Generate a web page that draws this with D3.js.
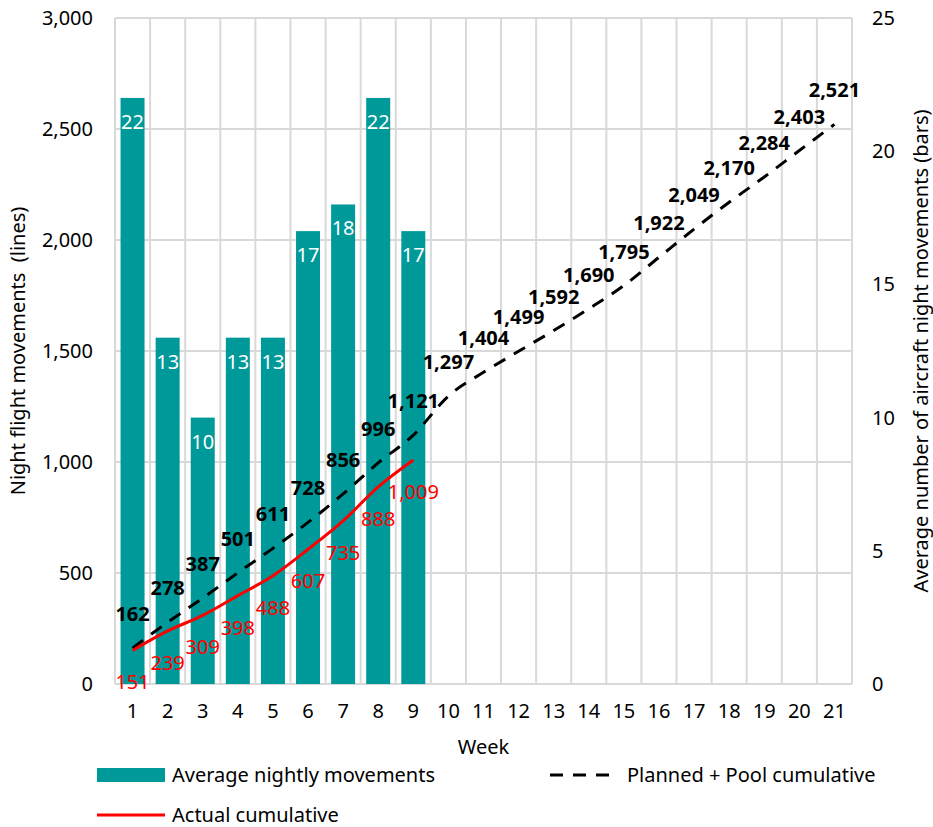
<!DOCTYPE html>
<html>
<head>
<meta charset="utf-8">
<script src="https://cdn.jsdelivr.net/npm/d3@7"></script>
<style>
  body { margin: 0; background: #fff; }
  text { font-family: "Noto Sans", sans-serif; }
</style>
</head>
<body>
<svg id="chart" width="933" height="827"></svg>
<script>
// Data
const weeks = d3.range(1, 22).map(String)
const avgNightly = [22, 13, 10, 13, 13, 17, 18, 22, 17]
const plannedCumulative = [162, 278, 387, 501, 611, 728, 856, 996, 1121, 1297, 1404, 1499, 1592, 1690, 1795, 1922, 2049, 2170, 2284, 2403, 2521]
const actualCumulative = [151, 239, 309, 398, 488, 607, 735, 888, 1009]
const leftTicks = [0, 500, 1000, 1500, 2000, 2500, 3000]
const rightTicks = [0, 5, 10, 15, 20, 25]

const teal = '#009999'
const grid = '#d9d9d9'
const fmt = d3.format(',')

const margin = {top: 18, right: 81, bottom: 143, left: 115}
const width = 933 - margin.left - margin.right
const height = 827 - margin.top - margin.bottom

const svg = d3.select('#chart')
const g = svg.append('g')
    .attr('transform', 'translate(' + margin.left + ',' + margin.top + ')')

const x = d3.scaleBand()
    .domain(weeks)
    .range([0, width])

const yLeft = d3.scaleLinear().domain([0, 3000]).range([height, 0])
const yRight = d3.scaleLinear().domain([0, 25]).range([height, 0])

const fs = 20 //font size for everything

//Horizontal gridlines
g.selectAll('.hgrid')
    .data(leftTicks)
    .enter()
    .append('line')
    .attr('x1', 0)
    .attr('x2', width)
    .attr('y1', d => yLeft(d))
    .attr('y2', d => yLeft(d))
    .attr('stroke', grid)
    .attr('stroke-width', 2)

//Vertical gridlines at band edges
g.selectAll('.vgrid')
    .data(d3.range(0, weeks.length + 1))
    .enter()
    .append('line')
    .attr('x1', i => i * x.step())
    .attr('x2', i => i * x.step())
    .attr('y1', 0)
    .attr('y2', height)
    .attr('stroke', grid)
    .attr('stroke-width', 2)

//Bars
const barW = 24
g.selectAll('.bar')
    .data(avgNightly)
    .enter()
    .append('rect')
    .attr('class', 'bar')
    .attr('x', (d, i) => x(weeks[i]) + x.bandwidth() / 2 - barW / 2)
    .attr('y', d => yRight(d))
    .attr('width', barW)
    .attr('height', d => height - yRight(d))
    .attr('fill', teal)

g.selectAll('.barlabel')
    .data(avgNightly)
    .enter()
    .append('text')
    .attr('x', (d, i) => x(weeks[i]) + x.bandwidth() / 2)
    .attr('y', d => yRight(d) + 31)
    .attr('text-anchor', 'middle')
    .attr('fill', 'white')
    .attr('font-size', fs)
    .text(d => d)

const cx = i => x(weeks[i]) + x.bandwidth() / 2

//Lines
const line = d3.line()
    .x((d, i) => cx(i))
    .y(d => yLeft(d))
    .curve(d3.curveMonotoneX)

g.append('path')
    .datum(plannedCumulative)
    .attr('d', line)
    .attr('fill', 'none')
    .attr('stroke', 'black')
    .attr('stroke-width', 3)
    .attr('stroke-dasharray', '13,10')

g.append('path')
    .datum(actualCumulative)
    .attr('d', line)
    .attr('fill', 'none')
    .attr('stroke', '#ff0000')
    .attr('stroke-width', 3)

g.selectAll('.plabel')
    .data(plannedCumulative)
    .enter()
    .append('text')
    .attr('x', (d, i) => cx(i))
    .attr('y', d => yLeft(d) - 27)
    .attr('text-anchor', 'middle')
    .attr('font-size', fs)
    .attr('font-weight', 'bold')
    .attr('fill', 'black')
    .text(d => fmt(d))

g.selectAll('.alabel')
    .data(actualCumulative)
    .enter()
    .append('text')
    .attr('x', (d, i) => cx(i))
    .attr('y', d => yLeft(d) + 39)
    .attr('text-anchor', 'middle')
    .attr('font-size', fs)
    .attr('fill', '#ff0000')
    .text(d => fmt(d))

//Axes
g.selectAll('.ltick')
    .data(leftTicks)
    .enter()
    .append('text')
    .attr('x', -22)
    .attr('y', d => yLeft(d))
    .attr('dy', '0.35em')
    .attr('text-anchor', 'end')
    .attr('font-size', fs)
    .text(d => fmt(d))

g.selectAll('.rtick')
    .data(rightTicks)
    .enter()
    .append('text')
    .attr('x', width + 20)
    .attr('y', d => yRight(d))
    .attr('dy', '0.35em')
    .attr('text-anchor', 'start')
    .attr('font-size', fs)
    .text(d => d)

g.selectAll('.xtick')
    .data(weeks)
    .enter()
    .append('text')
    .attr('x', d => x(d) + x.bandwidth() / 2)
    .attr('y', height + 27)
    .attr('dy', '0.35em')
    .attr('text-anchor', 'middle')
    .attr('font-size', fs)
    .text(d => d)

g.append('text')
    .attr('x', width / 2)
    .attr('y', height + 63)
    .attr('dy', '0.35em')
    .attr('text-anchor', 'middle')
    .attr('font-size', fs)
    .text('Week')

svg.append('text')
    .attr('transform', 'translate(18,' + (margin.top + height / 2) + ') rotate(-90)')
    .attr('dy', '0.35em')
    .attr('text-anchor', 'middle')
    .attr('font-size', fs)
    .style('white-space', 'pre')
    .text('Night flight movements  (lines)')

svg.append('text')
    .attr('transform', 'translate(921,' + (margin.top + height / 2) + ') rotate(-90)')
    .attr('dy', '0.35em')
    .attr('text-anchor', 'middle')
    .attr('font-size', fs)
    .text('Average number of aircraft night movements (bars)')

//Legend
const legend = svg.append('g')
legend.append('rect')
    .attr('x', 97).attr('y', 768).attr('width', 68).attr('height', 14)
    .attr('fill', teal)
legend.append('text')
    .attr('x', 172).attr('y', 775).attr('dy', '0.35em')
    .attr('font-size', fs)
    .text('Average nightly movements')

legend.append('line')
    .attr('x1', 550).attr('x2', 612).attr('y1', 775).attr('y2', 775)
    .attr('stroke', 'black').attr('stroke-width', 3).attr('stroke-dasharray', '13,10')
legend.append('text')
    .attr('x', 627).attr('y', 775).attr('dy', '0.35em')
    .attr('font-size', fs)
    .text('Planned + Pool cumulative')

legend.append('line')
    .attr('x1', 97).attr('x2', 165).attr('y1', 815).attr('y2', 815)
    .attr('stroke', '#ff0000').attr('stroke-width', 3)
legend.append('text')
    .attr('x', 172).attr('y', 815).attr('dy', '0.35em')
    .attr('font-size', fs)
    .text('Actual cumulative')
</script>
</body>
</html>
